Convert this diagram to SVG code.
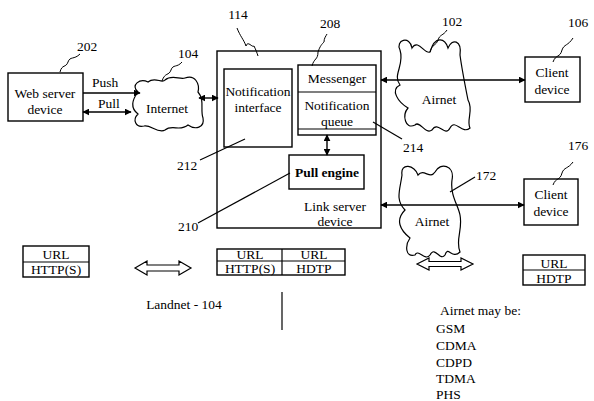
<svg xmlns="http://www.w3.org/2000/svg" width="594" height="401" viewBox="0 0 594 401">
<style>
text{font-family:"Liberation Serif","Times New Roman",serif;font-size:13.5px;fill:#000}
.c{text-anchor:middle}
.b{font-weight:bold}
.box{fill:#fff;stroke:#000;stroke-width:1.4}
.ln{fill:none;stroke:#000;stroke-width:1.2}
.sq{fill:none;stroke:#000;stroke-width:1}
.cl{fill:#fff;stroke:#000;stroke-width:1.2}
.ar{fill:none;stroke:#000;stroke-width:1.4}
.ha{fill:#fff;stroke:#000;stroke-width:1.2}
</style>
<defs>
<marker id="ah" viewBox="0 0 10 10" refX="9" refY="5" markerWidth="7" markerHeight="7" markerUnits="userSpaceOnUse" orient="auto-start-reverse">
<path d="M0,0 L10,5 L0,10 Z" fill="#000"/>
</marker>
</defs>
<rect width="594" height="401" fill="#fff"/>

<g id="web-server">
<rect class="box" x="8" y="73" width="75" height="48"/>
<text class="c" x="45" y="98">Web server</text>
<text class="c" x="45" y="114">device</text>
<text class="c" x="87" y="51">202</text>
<path class="sq" d="M60,72 C62,64 66,68 68,62 C70,56 74,60 80,54"/>
</g>

<g id="internet">
<path class="cl" d="M138,92 C130,85 140,78 148,82 C155,76 162,84 165,80 C172,74 180,80 185,78 C195,74 200,84 198,92 C205,100 200,110 203,118 C205,128 195,130 188,125 C180,132 172,124 165,130 C158,134 150,124 144,126 C136,128 132,120 138,114 C130,108 132,100 138,92 Z"/>
<text class="c" x="167" y="113">Internet</text>
<text class="c" x="188" y="58">104</text>
<path class="sq" d="M162,81 C165,72 169,76 171,70 C173,64 177,68 182,62"/>
</g>

<g id="link-server">
<rect class="box" x="217" y="51" width="164" height="177"/>
<text class="c" x="335" y="211">Link server</text>
<text class="c" x="335" y="226">device</text>
<text class="c" x="238" y="19">114</text>
<path class="sq" d="M237,28 C240,36 244,40 246,46 C248,40 252,48 254,46 C256,50 257,53 258,56"/>
</g>

<g id="notification-interface">
<rect class="box" x="224" y="69" width="68" height="78"/>
<text class="c" x="258" y="96">Notification</text>
<text class="c" x="258" y="112">interface</text>
<text class="c" x="187" y="170">212</text>
</g>

<g id="messenger-queue">
<rect class="box" x="298" y="65" width="78" height="70"/>
<line class="ln" x1="298" y1="92" x2="376" y2="92"/>
<line class="ln" x1="298" y1="129" x2="376" y2="129"/>
<text class="c" x="337" y="83">Messenger</text>
<text class="c" x="337" y="110">Notification</text>
<text class="c" x="337" y="126">queue</text>
<text class="c" x="330" y="28">208</text>
<path class="sq" d="M312,66 C314,58 318,60 318,52 C320,46 322,44 324,42 C324,38 326,36 327,34"/>
<text class="c" x="413" y="152">214</text>
</g>

<g id="pull-engine">
<rect class="box" x="289" y="155" width="75" height="34"/>
<text class="c b" x="327" y="177">Pull engine</text>
<text class="c" x="188" y="231">210</text>
</g>

<g id="airnet-102">
<path class="cl" d="M400,50 C395,40 410,35 412,48 C418,38 425,55 430,52 C435,35 445,38 448,48 C452,38 462,40 460,55 C462,70 465,85 468,100 C474,110 466,120 470,128 C462,135 455,118 450,128 C445,138 438,120 432,130 C425,135 420,120 415,125 C405,130 402,115 408,108 C398,102 390,90 400,85 C392,75 405,65 400,50 Z"/>
<text class="c" x="439" y="104">Airnet</text>
<text class="c" x="452" y="26">102</text>
<path class="sq" d="M430,52 C432,44 436,46 438,40 C440,34 443,36 447,30"/>
</g>

<g id="client-106">
<rect class="box" x="525" y="57" width="55" height="45"/>
<text class="c" x="552" y="77">Client</text>
<text class="c" x="552" y="94">device</text>
<text class="c" x="578" y="27">106</text>
<path class="sq" d="M553,62 C556,54 560,58 562,50 C564,44 568,46 573,38"/>
</g>

<g id="airnet-172">
<path class="cl" d="M402,175 C400,162 415,165 418,175 C424,168 430,180 435,172 C440,162 455,165 452,180 C450,195 458,205 460,215 C463,230 455,240 460,252 C452,260 448,245 445,255 C440,262 435,245 430,255 C425,262 418,248 415,255 C405,258 405,245 410,238 C400,230 395,220 405,210 C395,200 400,190 402,175 Z"/>
<text class="c" x="432" y="226">Airnet</text>
<text class="c" x="486" y="180">172</text>
</g>

<g id="client-176">
<rect class="box" x="524" y="179" width="54" height="46"/>
<text class="c" x="551" y="199">Client</text>
<text class="c" x="551" y="216">device</text>
<text class="c" x="578" y="150">176</text>
<path class="sq" d="M553,185 C556,177 560,181 562,173 C564,167 568,169 573,162"/>
</g>

<g id="protocol-web">
<rect class="box" x="23" y="246" width="66" height="31"/>
<line class="ln" x1="23" y1="262" x2="89" y2="262"/>
<text class="c" x="56" y="259">URL</text>
<text class="c" x="56" y="274">HTTP(S)</text>
</g>

<g id="protocol-link">
<rect class="box" x="217" y="249" width="128" height="26"/>
<line class="ln" x1="217" y1="261" x2="345" y2="261"/>
<line class="ln" x1="282" y1="249" x2="282" y2="275"/>
<text class="c" x="250" y="259">URL</text>
<text class="c" x="250" y="273">HTTP(S)</text>
<text class="c" x="314" y="259">URL</text>
<text class="c" x="314" y="273">HDTP</text>
</g>

<g id="protocol-client">
<rect class="box" x="523" y="255" width="62" height="30"/>
<line class="ln" x1="523" y1="270" x2="585" y2="270"/>
<text class="c" x="554" y="268">URL</text>
<text class="c" x="554" y="283">HDTP</text>
</g>

<g id="notes">
<text class="c" x="184" y="309">Landnet - 104</text>
<text x="440" y="315">Airnet may be:</text>
<text x="436" y="333">GSM</text>
<text x="436" y="350">CDMA</text>
<text x="436" y="367">CDPD</text>
<text x="436" y="383">TDMA</text>
<text x="436" y="399">PHS</text>
</g>

<g id="connectors">
<line class="ar" x1="83" y1="93" x2="140" y2="93" marker-end="url(#ah)"/>
<text x="92" y="87">Push</text>
<line class="ar" x1="83" y1="112" x2="131" y2="112" marker-start="url(#ah)" marker-end="url(#ah)"/>
<text x="98" y="108">Pull</text>
<line class="ar" x1="199" y1="98" x2="218" y2="98" marker-start="url(#ah)" marker-end="url(#ah)"/>
<line class="ar" x1="381" y1="80" x2="525" y2="80" marker-start="url(#ah)" marker-end="url(#ah)"/>
<line class="ar" x1="381" y1="205" x2="524" y2="205" marker-start="url(#ah)" marker-end="url(#ah)"/>
<line class="ar" x1="327" y1="135" x2="327" y2="155" marker-start="url(#ah)" marker-end="url(#ah)"/>
<line class="ln" x1="200" y1="160" x2="245" y2="139"/>
<line class="ln" x1="198" y1="223" x2="290" y2="173"/>
<line class="ln" x1="373" y1="122" x2="402" y2="139"/>
<line class="ln" x1="450" y1="192" x2="475" y2="177"/>
<line class="ln" x1="282" y1="292" x2="282" y2="330"/>
<polygon class="ha" points="135,268 147,261 147,265 179,265 179,261 191,268 179,275 179,271 147,271 147,275"/>
<polygon class="ha" points="417,264 429,258 429,261.5 461,261.5 461,258 473,264 461,270 461,266.5 429,266.5 429,270"/>
</g>
</svg>
